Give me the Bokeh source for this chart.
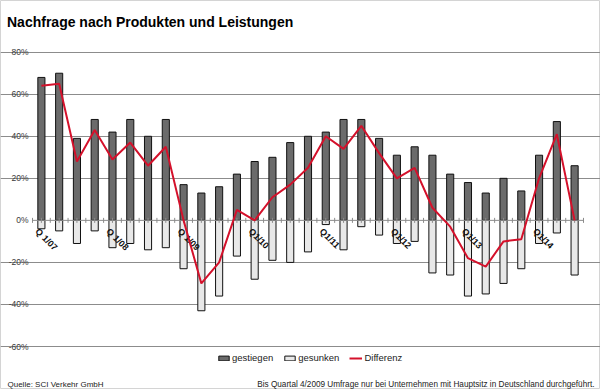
import numpy as np
from bokeh.plotting import figure
from bokeh.models import (FixedTicker, Label, Legend, LegendItem,
                          ColumnDataSource, Range1d)
from bokeh.core.properties import value
from bokeh.embed import file_html
from bokeh.resources import INLINE

# ---- data ----
quarters = [f"Q{q}/{y:02d}" for y in range(7, 15) for q in range(1, 5)][:31]
tick_labels = ["Q 1/07", "Q 1/08", "Q 1/09", "Q1/10", "Q1/11", "Q1/12", "Q1/13", "Q1/14"]
gestiegen = [68, 70, 39, 48, 42, 48, 40, 48, 17, 13, 16, 22, 28, 30, 37, 40,
             42, 48, 48, 39, 31, 35, 31, 22, 18, 13, 20, 14, 31, 47, 26]
gesunken = [-4, -5, -11, -5, -13, -11, -14, -13, -23, -43, -36, -17, -28, -19, -20, -15,
            -2, -14, -3, -7, -11, -10, -25, -26, -36, -35, -30, -23, -11, -6, -26]
differenz = [64, 65, 28, 43, 29, 37, 26, 35, 0, -30, -20, 5, 0, 11, 17, 25,
             40, 34, 45, 32, 20, 25, 6, -3, -18, -22, -10, -9, 20, 41, 0]
y_ticks = [-60, -40, -20, 0, 20, 40, 60, 80]
y_tick_labels = [f"{t}%" for t in y_ticks]

n = len(quarters)
idx = list(range(n))
src = ColumnDataSource(dict(x=idx, q=quarters, up=gestiegen, down=gesunken, diff=differenz))

FONT = "Liberation Sans"
W, H = 600, 389
# plot area in page pixels
PL, PR, PT, PB = 32, 583, 51.7, 346
x0, x1 = -0.5, n - 0.5
y0, y1 = -60, 80
sx = (PR - PL) / (x1 - x0)
sy = (PB - PT) / (y1 - y0)
xr = Range1d(x0 - PL / sx, x1 + (W - PR) / sx)
yr = Range1d(y0 - (H - PB) / sy, y1 + PT / sy)

p = figure(width=W, height=H, output_backend="svg", toolbar_location=None,
           x_range=xr, y_range=yr, x_axis_location=None, y_axis_location=None,
           min_border=0)
p.outline_line_color = "#d4d4d4"
p.outline_line_width = 1
p.background_fill_color = "white"
p.border_fill_color = "white"

p.xgrid.visible = False
p.ygrid.ticker = FixedTicker(ticks=[t for t in y_ticks if t != 0])
p.ygrid.grid_line_color = "#8c8c8c"
p.ygrid.grid_line_width = 1
p.ygrid.bounds = (x0, x1)

# y tick labels
p.text(x=[x0] * len(y_ticks), y=y_ticks, text=y_tick_labels, x_offset=-4,
       text_align="right", text_baseline="middle", text_font=value(FONT),
       text_font_size="8.5px", text_color="#3a3a3a")

# bars
r_up = p.vbar(x="x", top="up", bottom=0, width=0.4, source=src,
              fill_color="#6b6b6b", line_color="#111111", line_width=1)
r_down = p.vbar(x="x", top=0, bottom="down", width=0.4, source=src,
                fill_color="#e8e8e8", line_color="#111111", line_width=1)

# zero line with tick marks
p.segment(x0=[x0], y0=[0], x1=[x1], y1=[0], line_color="#8c8c8c", line_width=1)
tick_x = list(np.arange(x0, x1 + 0.01, 0.5))
p.scatter(x=tick_x, y=[0] * len(tick_x), marker="dash", angle=np.pi / 2, size=5,
          line_color="#8c8c8c", line_width=1)

# category labels (every first quarter)
q1_pos = [i for i in idx if i % 4 == 0]
p.text(x=q1_pos, y=[0] * len(q1_pos), text=tick_labels, angle=-45, angle_units="deg",
       x_offset=-1, y_offset=6, text_align="left", text_baseline="top",
       text_font=value(FONT), text_font_size="9px", text_font_style="bold",
       text_color="#111111")

r_line = p.line(x="x", y="diff", source=src, line_color="#d4112b", line_width=2)

legend = Legend(items=[LegendItem(label="gestiegen", renderers=[r_up]),
                       LegendItem(label="gesunken", renderers=[r_down]),
                       LegendItem(label="Differenz", renderers=[r_line])],
                location=(217, 26), orientation="horizontal",
                border_line_color=None, background_fill_alpha=0,
                label_text_font=FONT, label_text_font_size="9.5px", label_text_color="#222222",
                glyph_width=13, glyph_height=6, label_height=10, label_standoff=2,
                spacing=10, padding=0, margin=0)
p.add_layout(legend, "center")

p.add_layout(Label(x=6.5, y=H - 21.5, x_units="screen", y_units="screen",
                   text="Nachfrage nach Produkten und Leistungen",
                   text_font=FONT, text_font_size="14px", text_font_style="bold",
                   text_color="black", text_baseline="alphabetic"))
p.add_layout(Label(x=7, y=5, x_units="screen", y_units="screen",
                   text="Quelle: SCI Verkehr GmbH",
                   text_font=FONT, text_font_size="8px", text_color="#222222",
                   text_baseline="alphabetic"))
p.add_layout(Label(x=594, y=5, x_units="screen", y_units="screen",
                   text="Bis Quartal 4/2009 Umfrage nur bei Unternehmen mit Hauptsitz in Deutschland durchgeführt.",
                   text_font=FONT, text_font_size="8.2px", text_color="#222222",
                   text_align="right", text_baseline="alphabetic"))

open("out.html", "w").write(file_html(p, INLINE))
